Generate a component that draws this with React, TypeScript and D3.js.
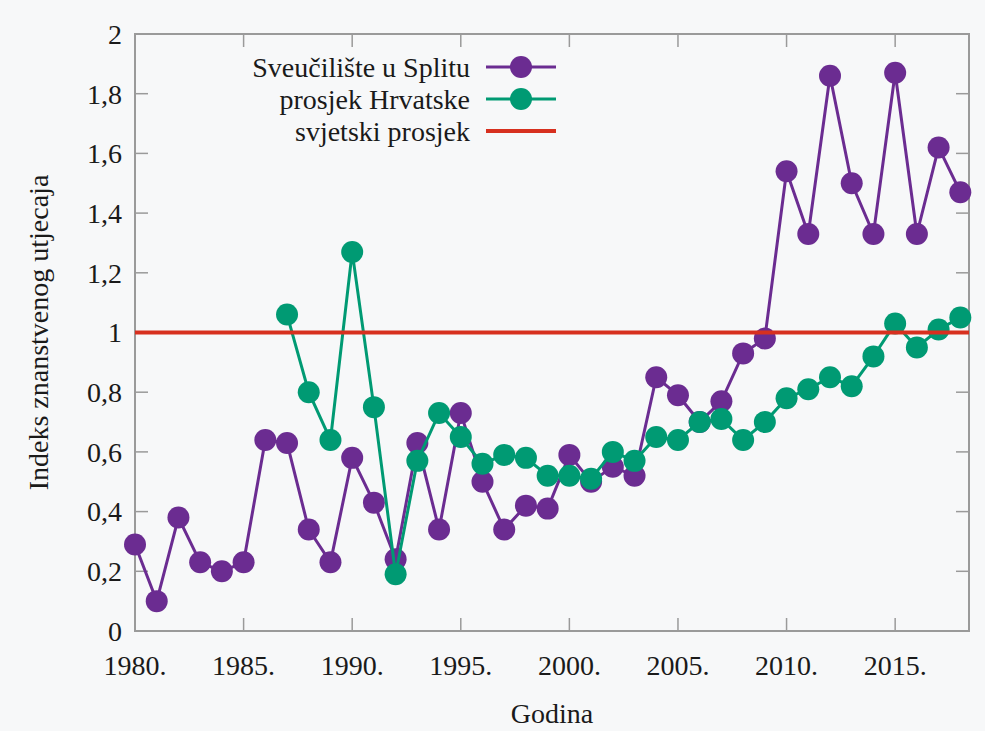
import React from 'react';
import * as d3 from 'd3';

const splitYears = d3.range(1980, 2019);
const splitValues = [
  0.29, 0.10, 0.38, 0.23, 0.20, 0.23, 0.64, 0.63, 0.34, 0.23,
  0.58, 0.43, 0.24, 0.63, 0.34, 0.73, 0.50, 0.34, 0.42, 0.41,
  0.59, 0.50, 0.55, 0.52, 0.85, 0.79, 0.70, 0.77, 0.93, 0.98,
  1.54, 1.33, 1.86, 1.50, 1.33, 1.87, 1.33, 1.62, 1.47,
];
const hrYears = d3.range(1987, 2019);
const hrValues = [
  1.06, 0.80, 0.64, 1.27, 0.75, 0.19, 0.57, 0.73, 0.65, 0.56,
  0.59, 0.58, 0.52, 0.52, 0.51, 0.60, 0.57, 0.65, 0.64, 0.70,
  0.71, 0.64, 0.70, 0.78, 0.81, 0.85, 0.82, 0.92, 1.03, 0.95,
  1.01, 1.05,
];
const worldAverage = 1;
const xTicks = [1980, 1985, 1990, 1995, 2000, 2005, 2010, 2015];
const yTicks = [0, 0.2, 0.4, 0.6, 0.8, 1, 1.2, 1.4, 1.6, 1.8, 2];
const seriesNames = ['Sveučilište u Splitu', 'prosjek Hrvatske', 'svjetski prosjek'];

const PURPLE = '#6b2c91';
const GREEN = '#009a73';
const RED = '#d7301f';
const colors = [PURPLE, GREEN, RED];

const width = 985;
const height = 731;
const margin = { top: 34, right: 16, bottom: 100, left: 135 };
const x0 = margin.left, x1 = width - margin.right;
const y0 = height - margin.bottom, y1 = margin.top;
const tickLen = 13;
const axisColor = '#9a9a9a';

const textStyle = { fontFamily: "'Liberation Serif', serif", fontSize: 28, fill: '#1a1a1a' };

const x = d3.scaleLinear().domain([1980, 2018.4]).range([x0, x1]);
const y = d3.scaleLinear().domain([0, 2]).range([y0, y1]);
const line = d3.line().x(d => x(d[0])).y(d => y(d[1]));
const fmt = d => String(d).replace('.', ',');

function Series({ years, values, color }) {
  const pts = years.map((yr, i) => [yr, values[i]]);
  return (
    <g>
      <path d={line(pts)} fill="none" stroke={color} strokeWidth={3} />
      {pts.map(p => <circle key={p[0]} cx={x(p[0])} cy={y(p[1])} r={11} fill={color} />)}
    </g>
  );
}

function App() {
  return (
    <svg width={width} height={height}
      style={{ position: 'absolute', left: 0, top: 0, display: 'block' }}>
      <rect width={width} height={height} fill="#f7f8f9" />
      <g stroke={axisColor} strokeWidth={1.5}>
        {xTicks.map(t => (
          <g key={t}>
            <line x1={x(t)} x2={x(t)} y1={y0} y2={y0 - tickLen} />
            <line x1={x(t)} x2={x(t)} y1={y1} y2={y1 + tickLen} />
          </g>
        ))}
        {yTicks.map(t => (
          <g key={t}>
            <line x1={x0} x2={x0 + tickLen} y1={y(t)} y2={y(t)} />
            <line x1={x1} x2={x1 - tickLen} y1={y(t)} y2={y(t)} />
          </g>
        ))}
      </g>
      <rect x={x0} y={y1} width={x1 - x0} height={y0 - y1} fill="none" stroke={axisColor} strokeWidth={2} />

      {xTicks.map(t => (
        <text key={t} x={x(t)} y={y0 + 44} textAnchor="middle" style={textStyle}>{`${t}.`}</text>
      ))}
      {yTicks.map(t => (
        <text key={t} x={x0 - 13} y={y(t)} dy="0.35em" textAnchor="end" style={textStyle}>{fmt(t)}</text>
      ))}
      <text x={(x0 + x1) / 2} y={723} textAnchor="middle" style={textStyle}>Godina</text>
      <text transform={`translate(48,${(y0 + y1) / 2}) rotate(-90)`} textAnchor="middle" style={textStyle}>
        Indeks znanstvenog utjecaja
      </text>

      <Series years={splitYears} values={splitValues} color={PURPLE} />
      <Series years={hrYears} values={hrValues} color={GREEN} />
      <line x1={x0} x2={x1} y1={y(worldAverage)} y2={y(worldAverage)} stroke={RED} strokeWidth={4} />

      {seriesNames.map((name, i) => (
        <g key={name} transform={`translate(0,${67 + 32 * i})`}>
          <text x={470} dy="0.35em" textAnchor="end" style={textStyle}>{name}</text>
          <line x1={486} x2={556} stroke={colors[i]} strokeWidth={i === 2 ? 4 : 3} />
          {i < 2 && <circle cx={521} r={11} fill={colors[i]} />}
        </g>
      ))}
    </svg>
  );
}

export default App;
